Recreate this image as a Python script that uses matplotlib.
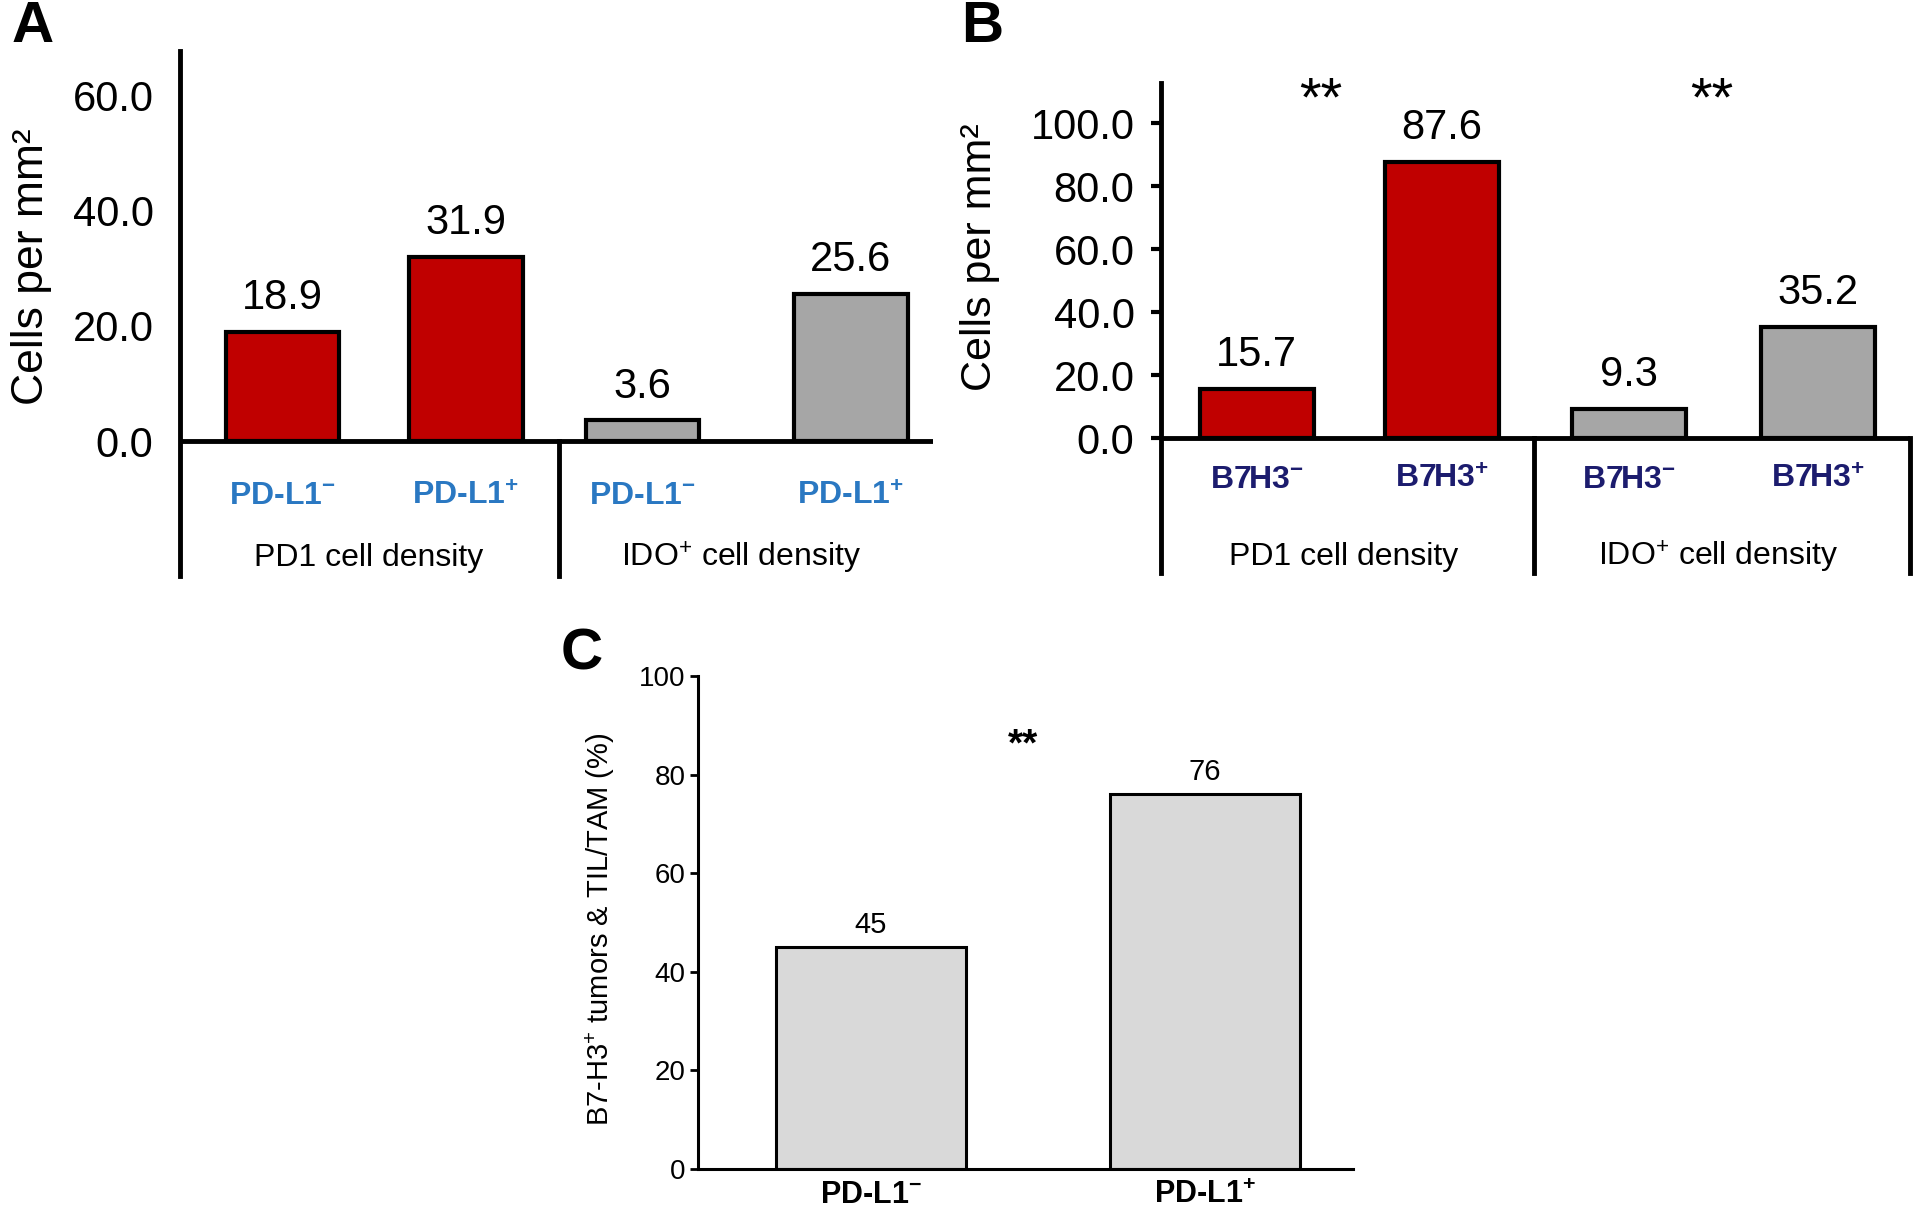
import numpy as np
import matplotlib
matplotlib.use("Agg")
import matplotlib.pyplot as plt

plt.rcParams['font.family'] = ['Liberation Sans', 'DejaVu Sans']
plt.rcParams['mathtext.default'] = 'regular'

# ---- data ----
a_groups = ['PD1 cell density', r'IDO$^{+}$ cell density']
a_cats = [r'PD-L1$^{-}$', r'PD-L1$^{+}$', r'PD-L1$^{-}$', r'PD-L1$^{+}$']
a_vals = [18.9, 31.9, 3.6, 25.6]
a_ticks = [0, 20, 40, 60]

b_groups = ['PD1 cell density', r'IDO$^{+}$ cell density']
b_cats = [r'B7H3$^{-}$', r'B7H3$^{+}$', r'B7H3$^{-}$', r'B7H3$^{+}$']
b_vals = [15.7, 87.6, 9.3, 35.2]
b_ticks = [0, 20, 40, 60, 80, 100]
b_stars = ['**', '**']

c_cats = [r'PD-L1$^{-}$', r'PD-L1$^{+}$']
c_vals = [45, 76]
c_ticks = [0, 20, 40, 60, 80, 100]
c_star = '**'

RED = '#c00000'
GREY = '#a6a6a6'
LIGHT = '#d9d9d9'
BLUE = '#2a78c2'
NAVY = '#1c1c6e'
bar_colors = [RED, RED, GREY, GREY]

W, H = 1920, 1218
fig = plt.figure(figsize=(W / 100, H / 100), dpi=100)


def add_ax(l, r, t, b):
    # pixel box -> figure fraction
    return fig.add_axes([l / W, 1 - b / H, (r - l) / W, (b - t) / H])


def density_panel(ax, pos, vals, cats, groups, cat_color, xmax, ylim,
                  ticks, divider, ticklen, y_cat, y_grp, val_off, right_line):
    ax.bar(pos, vals, width=1.0, color=bar_colors, edgecolor='black',
           linewidth=3, zorder=2)
    ax.set_xlim(0, xmax)
    ax.set_ylim(*ylim)
    for s in ['top', 'right', 'bottom']:
        ax.spines[s].set_visible(False)
    ax.spines['left'].set_linewidth(3.5)
    ax.axhline(0, color='black', lw=3.5, zorder=3)
    ax.plot([divider, divider], [ylim[0], 0], color='black', lw=3.5,
            clip_on=False)
    if right_line:
        ax.plot([xmax, xmax], [ylim[0], 0], color='black', lw=3.5,
                clip_on=False)
    ax.set_xticks([])
    ax.set_yticks(ticks)
    ax.set_yticklabels(['%.1f' % t for t in ticks])
    ax.tick_params(axis='y', labelsize=30, length=ticklen, width=3,
                   pad=19 - ticklen)
    for p, v in zip(pos, vals):
        ax.annotate('%.1f' % v, (p, v), xytext=(0, val_off),
                    textcoords='offset points', ha='center', va='bottom',
                    fontsize=30)
    for p, c in zip(pos, cats):
        ax.text(p, y_cat, c, ha='center', va='center', color=cat_color,
                fontsize=23, fontweight='bold')
    mids = [(pos[0] + pos[1]) / 2, (pos[2] + pos[3]) / 2]
    for m, g in zip(mids, groups):
        ax.text(m - 0.05, y_grp, g, ha='center', va='center', fontsize=23)


# ---- panel A ----
axA = add_ax(180, 933, 51, 576)
density_panel(axA, [0.90, 2.51, 4.06, 5.89], a_vals, a_cats, a_groups, BLUE,
              6.61, (-23.4, 67.7), a_ticks, 3.33, 0, -9.6, -20.2, 10, False)
fig.text(31 / W, 1 - 267 / H, 'Cells per mm²', rotation=90, ha='center',
         va='center', fontsize=32)
fig.text(33 / W, 1 - 27 / H, 'A', ha='center', va='center', fontsize=42,
         fontweight='bold')

# ---- panel B ----
axB = add_ax(1161, 1910, 83, 573)
density_panel(axB, [0.84, 2.47, 4.11, 5.77], b_vals, b_cats, b_groups, NAVY,
              6.58, (-42.8, 112.8), b_ticks, 3.28, 7, -13.2, -37.7, 10, True)
for x, s in zip([1.40, 4.84], b_stars):
    axB.text(x, 107, s, ha='center', va='center', fontsize=40)
fig.text(980 / W, 1 - 257 / H, 'Cells per mm²', rotation=90, ha='center',
         va='center', fontsize=31)
fig.text(982 / W, 1 - 27 / H, 'B', ha='center', va='center', fontsize=42,
         fontweight='bold')

# ---- panel C ----
axC = add_ax(698, 1353, 676, 1169)
c_pos = [0.91, 2.67]
axC.bar(c_pos, c_vals, width=1.0, color=LIGHT, edgecolor='black',
        linewidth=2.2, zorder=2)
axC.set_xlim(0, 3.45)
axC.set_ylim(0, 100)
for s in ['top', 'right']:
    axC.spines[s].set_visible(False)
axC.spines['left'].set_linewidth(2.2)
axC.spines['bottom'].set_linewidth(2.2)
axC.set_yticks(c_ticks)
axC.tick_params(axis='y', labelsize=20, length=6, width=2, pad=3)
axC.set_xticks(c_pos)
axC.set_xticklabels(c_cats, fontweight='bold')
axC.tick_params(axis='x', labelsize=22, length=0, pad=8)
for p, v in zip(c_pos, c_vals):
    axC.annotate('%d' % v, (p, v), xytext=(0, 6), textcoords='offset points',
                 ha='center', va='bottom', fontsize=21)
axC.text(1.71, 86, c_star, ha='center', va='center', fontsize=28,
         fontweight='bold')
fig.text(600 / W, 1 - 929 / H, r'B7-H3$^{+}$ tumors & TIL/TAM (%)',
         rotation=90, ha='center', va='center', fontsize=21)
fig.text(582 / W, 1 - 655 / H, 'C', ha='center', va='center', fontsize=42,
         fontweight='bold')

fig.savefig('out.png', dpi=100)
